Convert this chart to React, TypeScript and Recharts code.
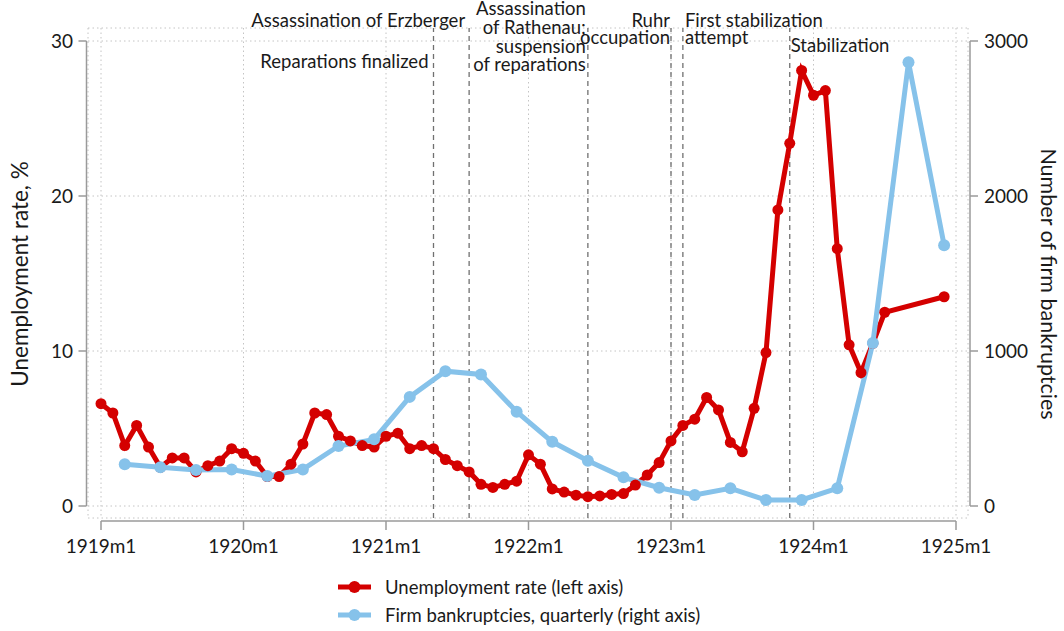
import React from "react";
import { LineChart, Line, XAxis, YAxis, CartesianGrid, ReferenceLine, Legend } from "recharts";

// monthly unemployment rate, %, 1919m1 .. 1924m12 (no data 1924m8-m11)
const unemployment = [
  6.6, 6.0, 3.9, 5.2, 3.8, 2.5, 3.1, 3.1, 2.2, 2.6, 2.9, 3.7,
  3.4, 2.9, 1.9, 1.9, 2.7, 4.0, 6.0, 5.9, 4.5, 4.2, 3.9, 3.8,
  4.5, 4.7, 3.7, 3.9, 3.7, 3.0, 2.6, 2.2, 1.4, 1.2, 1.4, 1.6,
  3.3, 2.7, 1.1, 0.9, 0.7, 0.6, 0.65, 0.75, 0.8, 1.35, 2.0, 2.8,
  4.2, 5.2, 5.6, 7.0, 6.2, 4.1, 3.5, 6.3, 9.9, 19.1, 23.4, 28.1,
  26.5, 26.8, 16.6, 10.4, 8.6, 10.5, 12.5, null, null, null, null, 13.5,
];

// quarterly firm bankruptcies, plotted at the middle month of each quarter
const quarterMonths = [2, 5, 8, 11, 14, 17, 20, 23, 26, 29, 32, 35, 38, 41, 44, 47, 50, 53, 56, 59, 62, 65, 68, 71];
const bankruptcies = [270, 250, 232, 236, 193, 236, 387, 430, 704, 870, 849, 608, 414, 292, 185, 118, 71, 114, 39, 39, 114, 1052, 2863, 1682];

const xTicks = [0, 12, 24, 36, 48, 60, 72];
const xTickLabels = ["1919m1", "1920m1", "1921m1", "1922m1", "1923m1", "1924m1", "1925m1"];
const leftTicks = [0, 10, 20, 30];
const rightTicks = [0, 1000, 2000, 3000];

const eventMonths = [28, 31, 41, 48, 49, 58];
const eventTexts = [
  ["Reparations finalized"],
  ["Assassination of Erzberger"],
  ["Assassination", "of Rathenau;", "suspension", "of reparations"],
  ["Ruhr", "occupation"],
  ["First stabilization", "attempt"],
  ["Stabilization"],
];

// label layout: anchor side, dx from the line, baselines of each text line
const eventLayout = [
  { anchor: "end", dx: -5, ys: [68] },
  { anchor: "end", dx: -4, ys: [27] },
  { anchor: "end", dx: -2, ys: [15, 34, 53, 71] },
  { anchor: "end", dx: -1, ys: [27, 44] },
  { anchor: "start", dx: 2, ys: [27, 44] },
  { anchor: "start", dx: 1, ys: [52] },
];

const data = unemployment.map((u, m) => {
  const q = quarterMonths.indexOf(m);
  return { month: m, unemp: u, bankr: q >= 0 ? bankruptcies[q] : null };
});

const W = 1064;
const H = 631;
const TOP = 28;
const X_AXIS_H = 113;
const LEFT_W = 88;
const RIGHT_W = 96;
const PAD = { left: 13, right: 12, top: 13, bottom: 12 };
const INNER_W = W - LEFT_W - RIGHT_W - PAD.left - PAD.right;
const INNER_H = H - TOP - X_AXIS_H - PAD.top - PAD.bottom;
const AXIS_X_Y = H - X_AXIS_H + 3;
const AXIS_L_X = 86.5;
const AXIS_R_X = 970;

const RED = "#d40000";
const BLUE = "#86c2ea";
const AXIS_C = "#9a9a9a";
const TEXT_C = "#1a1a1a";
const FONT = "Lato, 'Noto Sans', sans-serif";

const XTick = (props: any) => {
  const { x, payload } = props;
  const i = xTicks.indexOf(payload.value);
  return (
    <g>
      {i === 0 && <line x1={x} x2={x + INNER_W} y1={AXIS_X_Y} y2={AXIS_X_Y} stroke={AXIS_C} strokeWidth={1.5} />}
      <line x1={x} x2={x} y1={AXIS_X_Y} y2={AXIS_X_Y + 9} stroke={AXIS_C} strokeWidth={1.5} />
      <text x={x} y={AXIS_X_Y + 32} textAnchor="middle" fontSize={19} fill={TEXT_C} fontFamily={FONT}>
        {xTickLabels[i]}
      </text>
    </g>
  );
};

const LeftTick = (props: any) => {
  const { y, payload } = props;
  return (
    <g>
      {payload.value === 0 && <line x1={AXIS_L_X} x2={AXIS_L_X} y1={y} y2={y - INNER_H} stroke={AXIS_C} strokeWidth={1.5} />}
      <line x1={AXIS_L_X - 8} x2={AXIS_L_X} y1={y} y2={y} stroke={AXIS_C} strokeWidth={1.5} />
      <text x={73} y={y + 7} textAnchor="end" fontSize={19} fill={TEXT_C} fontFamily={FONT}>
        {payload.value}
      </text>
    </g>
  );
};

const RightTick = (props: any) => {
  const { y, payload } = props;
  return (
    <g>
      {payload.value === 0 && <line x1={AXIS_R_X} x2={AXIS_R_X} y1={y} y2={y - INNER_H} stroke={AXIS_C} strokeWidth={1.5} />}
      <line x1={AXIS_R_X} x2={AXIS_R_X + 8} y1={y} y2={y} stroke={AXIS_C} strokeWidth={1.5} />
      <text x={984} y={y + 7} textAnchor="start" fontSize={19} fill={TEXT_C} fontFamily={FONT}>
        {payload.value}
      </text>
    </g>
  );
};

const EventLabel = (props: any) => {
  const { viewBox, idx } = props;
  const lay = eventLayout[idx];
  const x = viewBox.x + lay.dx;
  return (
    <g>
      {eventTexts[idx].map((t, j) => (
        <text key={j} x={x} y={lay.ys[j]} textAnchor={lay.anchor} fontSize={18.5} fill={TEXT_C} fontFamily={FONT}>
          {t}
        </text>
      ))}
    </g>
  );
};

const LegendBox = () => {
  const rows = [
    { color: RED, label: "Unemployment rate (left axis)" },
    { color: BLUE, label: "Firm bankruptcies, quarterly (right axis)" },
  ];
  return (
    <svg width={420} height={60}>
      {rows.map((r, i) => {
        const cy = 14 + i * 28;
        return (
          <g key={i}>
            <line x1={8} x2={41} y1={cy} y2={cy} stroke={r.color} strokeWidth={5} />
            <circle cx={24.5} cy={cy} r={6} fill={r.color} />
            <text x={55} y={cy + 6.5} fontSize={18.5} fill={TEXT_C} fontFamily={FONT}>
              {r.label}
            </text>
          </g>
        );
      })}
    </svg>
  );
};

export default function App() {
  return (
    <div style={{ position: "absolute", left: 0, top: 0, width: W, height: H, background: "#fff" }}>
      <LineChart width={W} height={H} data={data} margin={{ top: TOP, right: 0, bottom: 0, left: 0 }}>
        <CartesianGrid yAxisId="left" stroke="#c4c4c4" strokeDasharray="1.5 3" />
        <XAxis
          dataKey="month"
          type="number"
          domain={[0, 72]}
          ticks={xTicks}
          interval={0}
          padding={{ left: PAD.left, right: PAD.right }}
          height={X_AXIS_H}
          axisLine={false}
          tickLine={false}
          tick={<XTick />}
        />
        <YAxis
          yAxisId="left"
          domain={[0, 30]}
          ticks={leftTicks}
          interval={0}
          padding={{ top: PAD.top, bottom: PAD.bottom }}
          width={LEFT_W}
          axisLine={false}
          tickLine={false}
          tick={<LeftTick />}
          label={() => (
            <text x={28} y={274} transform="rotate(-90 28 274)" textAnchor="middle" fontSize={22.5} fill={TEXT_C} fontFamily={FONT}>
              Unemployment rate, %
            </text>
          )}
        />
        <YAxis
          yAxisId="right"
          orientation="right"
          domain={[0, 3000]}
          ticks={rightTicks}
          interval={0}
          padding={{ top: PAD.top, bottom: PAD.bottom }}
          width={RIGHT_W}
          axisLine={false}
          tickLine={false}
          tick={<RightTick />}
          label={() => (
            <text x={1041} y={284} transform="rotate(90 1041 284)" textAnchor="middle" fontSize={21.5} fill={TEXT_C} fontFamily={FONT}>
              Number of firm bankruptcies
            </text>
          )}
        />
        {eventMonths.map((m, i) => (
          <ReferenceLine
            key={i}
            yAxisId="left"
            x={m}
            stroke="#707070"
            strokeWidth={1.3}
            strokeDasharray="5 4"
            label={(p: any) => <EventLabel {...p} idx={i} />}
          />
        ))}
        <Line
          yAxisId="left"
          dataKey="unemp"
          stroke={RED}
          strokeWidth={5}
          dot={{ r: 5.5, fill: RED, stroke: RED, strokeWidth: 0 }}
          connectNulls
          isAnimationActive={false}
        />
        <Line
          yAxisId="right"
          dataKey="bankr"
          stroke={BLUE}
          strokeWidth={5}
          dot={{ r: 6, fill: BLUE, stroke: BLUE, strokeWidth: 0 }}
          connectNulls
          isAnimationActive={false}
        />
        <Legend
          layout="horizontal"
          verticalAlign="middle"
          align="center"
          content={() => <LegendBox />}
          wrapperStyle={{ position: "absolute", left: 330, top: 573, width: 420, height: 60 }}
        />
      </LineChart>
    </div>
  );
}
